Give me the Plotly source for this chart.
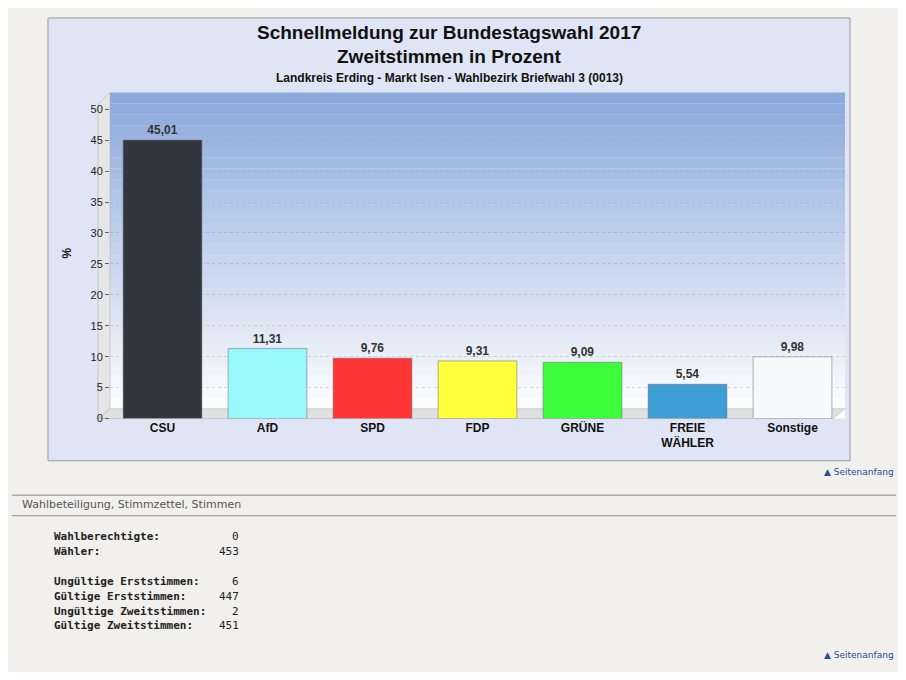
import plotly.graph_objects as go

parteien = ["CSU", "AfD", "SPD", "FDP", "GRÜNE", "FREIE<br>WÄHLER", "Sonstige"]
prozent = [45.01, 11.31, 9.76, 9.31, 9.09, 5.54, 9.98]
farben = ["#32363e", "#99f8fc", "#ff3636", "#ffff3c", "#3cfc3c", "#3d9ed6", "#f8f9fb"]
beschriftung = ["<b>45,01</b>", "<b>11,31</b>", "<b>9,76</b>", "<b>9,31</b>", "<b>9,09</b>", "<b>5,54</b>", "<b>9,98</b>"]

stat_namen = ["Wahlberechtigte:", "Wähler:", "", "Ungültige Erststimmen:", "Gültige Erststimmen:",
              "Ungültige Zweitstimmen:", "Gültige Zweitstimmen:"]
stat_werte = ["0", "453", "", "6", "447", "2", "451"]

# die Seite hat 8px Rand, daher etwas kleiner zeichnen und Koordinaten verschieben
W, H = 890, 664
def px(x): return (x - 8) / W
def py(y): return 1 - (y - 8) / H

fig = go.Figure()
fig.add_trace(go.Bar(x=parteien, y=prozent, marker_color=farben, marker_line_color="#666",
                     marker_line_width=0.5, width=0.75, text=beschriftung, textposition="outside",
                     textfont=dict(family="Arial", size=12, color="#333"), cliponaxis=False))

shapes = []
# Rahmen des Diagramms
shapes.append(dict(type="rect", xref="paper", yref="paper", x0=px(48), x1=px(850), y0=py(463), y1=py(12),
                   fillcolor="#dfe5f5", line=dict(color="#999", width=1), layer="below"))
# Hintergrundverlauf der Zeichenfläche
n = 30
top, bot = 88, 420
for i in range(n):
    t = i / (n - 1)
    r = int(140 + (255 - 140) * t); g = int(170 + (255 - 170) * t); b = int(220 + (255 - 220) * t)
    shapes.append(dict(type="rect", xref="paper", yref="paper", x0=px(110), x1=px(845),
                       y0=py(top + (bot - top) * (i + 1) / n), y1=py(top + (bot - top) * i / n),
                       fillcolor=f"rgb({r},{g},{b})", line_width=0, layer="below"))
# linke Wand und Boden
shapes.append(dict(type="path", xref="paper", yref="paper",
                   path=f"M {px(98)} {py(100)} L {px(110)} {py(88)} L {px(110)} {py(410)} L {px(98)} {py(420)} Z",
                   fillcolor="#e6e6e6", line=dict(color="#aaa", width=0.5), layer="below"))
shapes.append(dict(type="path", xref="paper", yref="paper",
                   path=f"M {px(98)} {py(420)} L {px(110)} {py(410)} L {px(845)} {py(410)} L {px(833)} {py(420)} Z",
                   fillcolor="#e0e0e0", line=dict(color="#aaa", width=0.5), layer="below"))
# Trennlinien unten
for y in (498, 519):
    shapes.append(dict(type="line", xref="paper", yref="paper", x0=px(12), x1=px(896), y0=py(y), y1=py(y),
                       line=dict(color="#888", width=1)))

ann = [
    dict(text="<b>Schnellmeldung zur Bundestagswahl 2017</b>", x=px(449), y=py(27), font=dict(size=19)),
    dict(text="<b>Zweitstimmen in Prozent</b>", x=px(449), y=py(51), font=dict(size=19)),
    dict(text="<b>Landkreis Erding - Markt Isen - Wahlbezirk Briefwahl 3 (0013)</b>", x=px(449), y=py(73), font=dict(size=12)),
    dict(text="<b>%</b>", x=px(67), y=py(252), font=dict(size=12), textangle=-90),
    dict(text="Wahlbeteiligung, Stimmzettel, Stimmen", x=px(20), y=py(508), xanchor="left",
         font=dict(family="DejaVu Sans", size=11, color="#555")),
    dict(text="▲ Seitenanfang", x=px(896), y=py(474), xanchor="right",
         font=dict(family="DejaVu Sans", size=9, color="#2a4a9a")),
    dict(text="▲ Seitenanfang", x=px(896), y=py(661), xanchor="right",
         font=dict(family="DejaVu Sans", size=9, color="#2a4a9a")),
]
for a in ann[:4]:
    a["font"]["family"] = "Arial"
    a["font"].setdefault("color", "#111")
for i, (name, wert) in enumerate(zip(stat_namen, stat_werte)):
    y = 540 + i * 15.2
    if name:
        ann.append(dict(text=f"<b>{name}</b>", x=px(52), y=py(y), xanchor="left",
                        font=dict(family="DejaVu Sans Mono", size=11, color="#222")))
        ann.append(dict(text=wert, x=px(241), y=py(y), xanchor="right",
                        font=dict(family="DejaVu Sans Mono", size=11, color="#222")))
for a in ann:
    a.update(xref="paper", yref="paper", showarrow=False)
    a.setdefault("xanchor", "center")
    a["yanchor"] = "middle"

fig.update_layout(
    width=W, height=H, margin=dict(l=0, r=0, t=0, b=0),
    paper_bgcolor="#f1f0ec", plot_bgcolor="rgba(0,0,0,0)", showlegend=False,
    shapes=shapes, annotations=ann, bargap=0.25,
    xaxis=dict(domain=[px(110), px(845)], tickfont=dict(family="Arial", size=12, color="#111"),
               showline=False, ticks="", tickprefix="<b>", ticksuffix="</b>"),
    yaxis=dict(domain=[py(420), py(105)], range=[0, 50], dtick=5, showgrid=True, gridcolor="rgba(150,150,150,0.35)",
               griddash="dot", ticks="outside", ticklen=4, tickcolor="#666",
               tickfont=dict(family="Arial", size=11, color="#222"), zeroline=False),
)

fig.write_html("out.html")
